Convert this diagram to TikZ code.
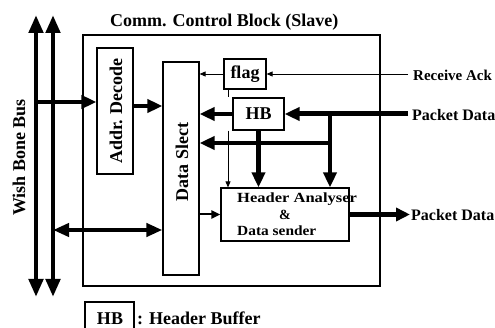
\documentclass[tikz,border=0pt]{standalone}
\usepackage{fontspec}
\setmainfont{Liberation Serif}
\usetikzlibrary{arrows.meta}
\begin{document}
\begin{tikzpicture}[x=1pt,y=-1pt,
  blk/.style={draw, line width=1.2pt, inner sep=0pt, font=\bfseries\fontsize{18}{20}\selectfont},
  lbl/.style={inner sep=0pt, font=\bfseries\fontsize{18}{20}\selectfont},
  sml/.style={inner sep=0pt, font=\bfseries\fontsize{16}{18}\selectfont},
  thk/.style={line width=4.5pt, -{Triangle[length=15pt,width=13pt]}},
  thkb/.style={line width=4.5pt, {Triangle[length=16pt,width=13pt]}-{Triangle[length=16pt,width=13pt]}},
  mid/.style={line width=2pt, -{Triangle[length=9pt,width=8pt]}},
  thn/.style={line width=0.8pt, -{Triangle[length=6pt,width=5pt]}},
  bus/.style={line width=4.5pt, {Triangle[length=18pt,width=14pt]}-{Triangle[length=18pt,width=14pt]}}]
\useasboundingbox (0,0) rectangle (495,328);
\clip (0,0) rectangle (495,328);

% bus
\coordinate (b1t) at (36,15);
\coordinate (b1b) at (36,297);
\coordinate (b2t) at (53,15);
\coordinate (b2b) at (53,297);
\draw[bus] (b1t) -- (b1b);
\draw[bus] (b2t) -- (b2b);
\node[lbl, rotate=90] (wbb) at (19,157.5) {Wish Bone Bus};

% outer block
\node[draw, line width=1.2pt, minimum width=297pt, minimum height=251pt, inner sep=0pt] (outer) at (231.5,160.5) {};
\node[lbl, anchor=base west] (title) at (110,27) {Comm. Control Block (Slave)};

% blocks
\node[blk, minimum width=36pt, minimum height=126pt] (addr) at (115,111) {};
\node[lbl, rotate=90] (addrt) at (116,111) {Addr. Decode};
\node[blk, minimum width=36pt, minimum height=213pt] (data) at (181,168.5) {};
\node[lbl, rotate=90] (datat) at (182,162) {Data Slect};
\node[blk, minimum width=42pt, minimum height=30pt] (flag) at (245,74) {flag};
\node[blk, minimum width=51pt, minimum height=32pt] (hb) at (258.5,114) {HB};
\node[blk, minimum width=128pt, minimum height=53pt] (ha) at (285,214.5) {};
\node[inner sep=0pt, anchor=base west, font=\bfseries\fontsize{14}{16}\selectfont] (ha1) at (237,203) {\scalebox{1.18}[1]{Header Analyser}};
\node[inner sep=0pt, anchor=base, font=\bfseries\fontsize{14}{16}\selectfont] (ha2) at (285,220) {\&};
\node[inner sep=0pt, anchor=base west, font=\bfseries\fontsize{14}{16}\selectfont] (ha3) at (237,236) {\scalebox{1.1}[1]{Data sender}};

% coordinates
\coordinate (a1) at (36,102);
\coordinate (a2) at (133,106);
\coordinate (rack) at (408,74);
\coordinate (pin) at (408,114);
\coordinate (br) at (330,114);
\coordinate (br2) at (330,143);
\coordinate (fd) at (228,89);
\coordinate (pout) at (410,214.5);
\coordinate (bd) at (53,230);

% connectors
\draw[thk] (a1) -- (addr.west |- a1);
\draw[thk] (a2) -- (data.west |- a2);
\draw[thn] (rack) -- (flag.east);
\draw[thn] (flag.west) -- (data.east |- flag.west);
\draw[line width=0.8pt] (fd) -- (fd |- hb.north);
\draw[thn] (fd |- hb.south) -- (fd |- ha.north);
\draw[line width=5pt, -{Triangle[length=15pt,width=13pt]}] (pin) -- (hb.east);
\draw[thk] (hb.west) -- (data.east |- hb.west);
\draw[line width=4.5pt] (br) -- (br2);
\draw[thk] (br2) -- (br2 |- ha.north);
\draw[thk] (br2) -- (data.east |- br2);
\draw[thk] (hb.south) -- (hb.south |- ha.north);
\draw[mid] (data.east |- ha.west) -- (ha.west);
\draw[line width=5pt, -{Triangle[length=14pt,width=13pt]}] (ha.east) -- (pout);
\draw[thkb] (bd) -- (data.west |- bd);

% side labels
\node[inner sep=0pt, anchor=west, font=\bfseries\fontsize{15}{17}\selectfont] (racklbl) at (413,75) {Receive Ack};
\node[sml, anchor=west] (pinlbl) at (412,115) {Packet Data};
\node[sml, anchor=west] (poutlbl) at (411,215) {Packet Data};

% legend
\draw[line width=1.2pt] (85,330) -- (85,302) -- (134,302) -- (134,330);
\node[lbl, anchor=base] (lhb) at (110,325) {HB};
\node[lbl, anchor=base west] (lhbt) at (137,325) {: Header Buffer};
\end{tikzpicture}
\end{document}
